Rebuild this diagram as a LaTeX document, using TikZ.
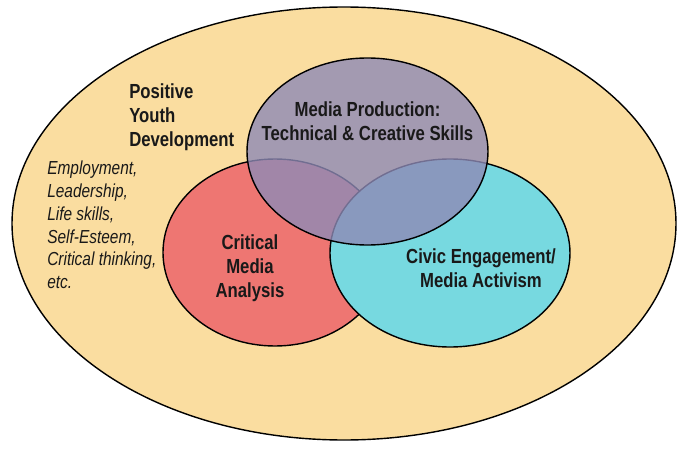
\documentclass[tikz,border=0pt]{standalone}
\usepackage{fontspec}
\setmainfont{Liberation Sans}[FakeStretch=0.82]
\usetikzlibrary{positioning}

\definecolor{pydorange}{RGB}{250,221,160}
\definecolor{cmared}{RGB}{238,118,114}
\definecolor{civcyan}{RGB}{119,217,224}
\definecolor{mppurple}{RGB}{142,138,182}

\begin{document}
\begin{tikzpicture}[x=0.025cm,y=0.025cm,
    bubble/.style={draw=black,line width=1pt},
    title/.style={font=\bfseries\fontsize{14.5}{17.2}\selectfont,text=black!90,inner sep=0pt},
    items/.style={font=\itshape\fontsize{13.4}{16.2}\selectfont,text=black!90,inner sep=0pt,align=left}]
      \useasboundingbox (0,0) rectangle (687,450);

      % Outer ellipse
      \draw[bubble,fill=pydorange] (344,226.5) ellipse [x radius=332,y radius=216.5];

      % Lower circles
      \draw[bubble,fill=cmared] (275,197.5) ellipse [x radius=112,y radius=93.5];
      \draw[bubble,fill=civcyan] (450,197) ellipse [x radius=120,y radius=94];

      % Top circle (see-through)
      \draw[bubble,fill=mppurple,fill opacity=0.8,draw opacity=1] (367.5,298.5) ellipse [x radius=120.5,y radius=93.5];

      % Outer labels
      \node[title,anchor=west,align=left] (pyd) at (129,333) {Positive\\Youth\\Development};
      \node[items,anchor=west] (outcomes) at (47,225) {Employment,\\Leadership,\\Life skills,\\Self-Esteem,\\Critical thinking,\\etc.};

      % Circle labels
      \node[title,align=center] (production) at (367.5,328.5) {Media Production:\\Technical \& Creative Skills};
      \node[title,align=center] (analysis) at (250,182) {Critical\\Media\\Analysis};
      \node[title,align=center] (civic) at (481,181.5) {Civic Engagement/\\Media Activism};

\end{tikzpicture}
\end{document}
